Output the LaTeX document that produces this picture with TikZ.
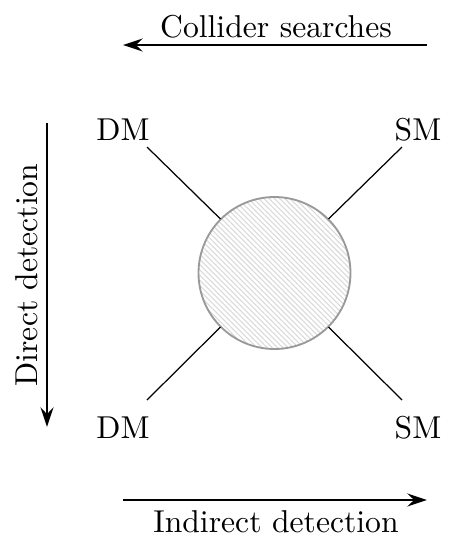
\documentclass[tikz,border=0pt]{standalone}
\usetikzlibrary{arrows.meta,patterns.meta}
\begin{document}
\begin{tikzpicture}[x=0.3257pt,y=-0.3257pt,
  lbl/.style={inner sep=0pt,font=\fontsize{10.3}{12}\selectfont},
  leg/.style={line width=0.4pt,black},
  axarrow/.style={line width=0.65pt,-{Stealth[length=6.4pt,width=4.2pt,inset=2.2pt]}},
  blobstyle/.style={circle,draw=gray!80,line width=0.6pt,minimum size=49.5pt,inner sep=0pt,
    pattern={Lines[angle=-45,distance=1.2pt,line width=0.35pt]},pattern color=gray!30}]
\useasboundingbox (0,0) rectangle (451,539);
\node[blobstyle] (blob) at (274.5,273) {};
\node[lbl] (dmtl) at (123,130) {DM};
\node[lbl] (smtr) at (418,130) {SM};
\node[lbl] (dmbl) at (123,428) {DM};
\node[lbl] (smbr) at (418,428) {SM};
\coordinate (ltl) at (147,147);
\coordinate (ltr) at (402,147);
\coordinate (lbl) at (147,400);
\coordinate (lbr) at (402,400);
\draw[leg] (ltl) -- (blob.north west);
\draw[leg] (ltr) -- (blob.north east);
\draw[leg] (lbl) -- (blob.south west);
\draw[leg] (lbr) -- (blob.south east);
% arrows
\coordinate (ts) at (427,45);
\coordinate (te) at (123,45);
\draw[axarrow] (ts) -- (te);
\node[lbl] (coll) at (276,27) {Collider searches};
\coordinate (ls) at (47,123);
\coordinate (le) at (47,427);
\draw[axarrow] (ls) -- (le);
\node[lbl,rotate=90] (direct) at (27,275) {Direct detection};
\coordinate (bs) at (123,500);
\coordinate (be) at (427,500);
\draw[axarrow] (bs) -- (be);
\node[lbl] (indirect) at (276,522) {Indirect detection};
\end{tikzpicture}
\end{document}
